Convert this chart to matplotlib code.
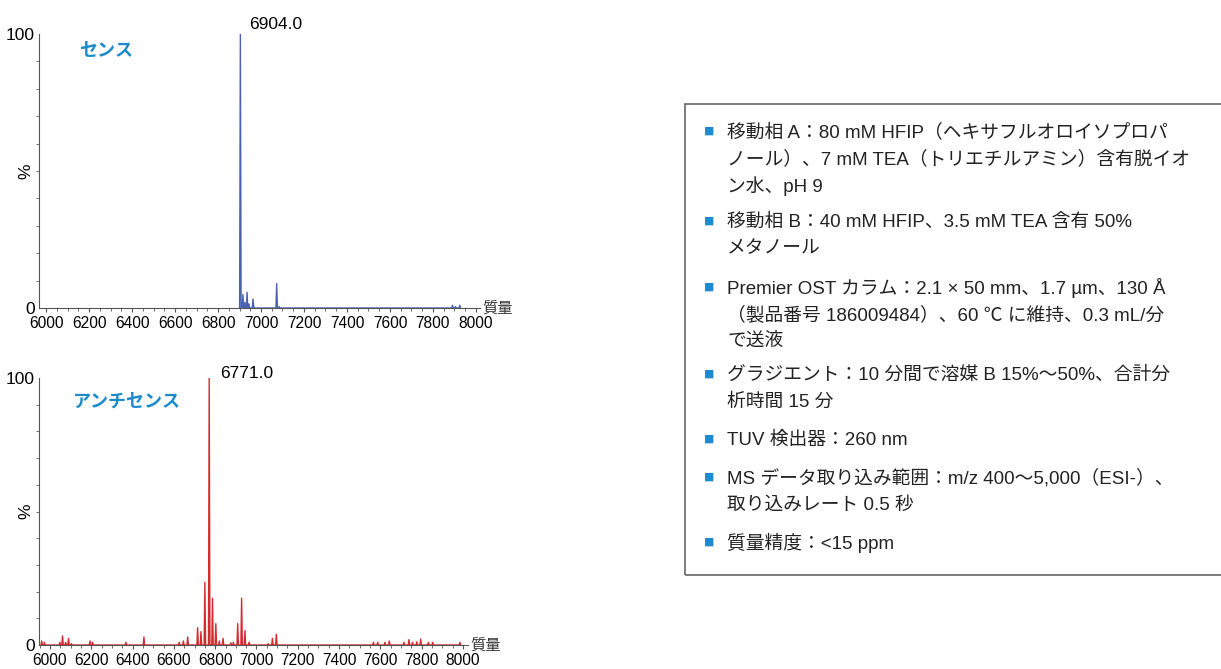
import numpy as np
import matplotlib.pyplot as plt
from matplotlib.patches import Rectangle
from matplotlib.ticker import MultipleLocator

plt.rcParams['font.family'] = ['Liberation Sans', 'Noto Sans CJK JP', 'DejaVu Sans']

# sense strand spectrum (mass, relative intensity %)
sense_mass = [6904, 6916, 6925, 6935, 6944, 6963, 7073, 7085, 7891, 7905, 7925]
sense_int = [100, 4.9, 2.0, 5.7, 1.5, 3.3, 8.9, 0.5, 1.0, 0.5, 1.0]
sense_peak = 6904.0

# antisense strand spectrum
anti_mass = [5960, 5973, 6048, 6061, 6076, 6090, 6104, 6194, 6207, 6368, 6455,
             6626, 6646, 6667, 6715, 6731, 6750, 6771, 6787, 6803, 6820, 6838,
             6876, 6888, 6909, 6928, 6944, 6964, 7057, 7077, 7096,
             7566, 7587, 7622, 7643, 7714, 7738, 7755, 7776, 7795, 7832, 7853, 7985]
anti_int = [1.5, 1.0, 1.0, 3.4, 1.0, 2.5, 0.5, 1.5, 1.0, 1.0, 3.0,
            1.0, 1.5, 3.0, 6.5, 5.0, 23.5, 100, 17.5, 8.0, 1.5, 2.5,
            0.8, 1.0, 8.0, 17.5, 5.4, 1.0, 0.5, 2.5, 4.0,
            1.0, 1.0, 1.0, 1.5, 1.0, 2.0, 1.0, 1.2, 2.2, 1.0, 1.0, 1.0]
anti_peak = 6771.0

info_lines = [
    (True, '移動相 A：80 mM HFIP（ヘキサフルオロイソプロパ'),
    (False, 'ノール）、7 mM TEA（トリエチルアミン）含有脱イオ'),
    (False, 'ン水、pH 9'),
    (True, '移動相 B：40 mM HFIP、3.5 mM TEA 含有 50%'),
    (False, 'メタノール'),
    (True, 'Premier OST カラム：2.1 × 50 mm、1.7 µm、130 Å'),
    (False, '（製品番号 186009484）、60 ℃ に維持、0.3 mL/分'),
    (False, 'で送液'),
    (True, 'グラジエント：10 分間で溶媒 B 15%～50%、合計分'),
    (False, '析時間 15 分'),
    (True, 'TUV 検出器：260 nm'),
    (True, 'MS データ取り込み範囲：m/z 400～5,000（ESI-）、'),
    (False, '取り込みレート 0.5 秒'),
    (True, '質量精度：<15 ppm'),
]
line_y = [132, 159, 186, 222, 248, 288, 315, 341, 375, 402, 440, 478, 505, 543]

W, H = 1221, 669
fig = plt.figure(figsize=(W / 100, H / 100), dpi=100)


def profile(mass, inten, hw=3.5):
    # thin triangular peaks
    xs, ys = [], []
    for m, h in zip(mass, inten):
        xs += [m - hw, m, m + hw]
        ys += [0, h, 0]
    return xs, ys


def spectrum(rect, mass, inten, color, xlim, label, peak, toff):
    ax = fig.add_axes(rect)
    xs, ys = profile(mass, inten)
    ax.plot(xs, ys, color=color, lw=1.0)
    ax.set_xlim(*xlim)
    ax.set_ylim(0, 100)
    for s in ['top', 'right']:
        ax.spines[s].set_visible(False)
    for s in ['left', 'bottom']:
        ax.spines[s].set_color('#555555')
        ax.spines[s].set_linewidth(0.8)
    ax.set_xticks(np.arange(6000, 8001, 200))
    ax.xaxis.set_minor_locator(MultipleLocator(50))
    ax.set_yticks([0, 100])
    ax.yaxis.set_minor_locator(MultipleLocator(10))
    ax.tick_params(axis='x', which='major', length=3, labelsize=11.2, pad=2.5, color='#555555')
    ax.tick_params(axis='x', which='minor', length=2, color='#555555')
    ax.tick_params(axis='y', which='major', length=0, labelsize=12.5, pad=3)
    ax.tick_params(axis='y', which='minor', length=2, color='#555555')
    ax.text(-0.03, 0.5, '%', transform=ax.transAxes, fontsize=12.5,
            rotation=90, va='center', ha='center')
    ax.text(1.005, 0.0, '質量', transform=ax.transAxes, fontsize=11,
            va='center', ha='left', color='#333333')
    ax.text(*label[1], label[0], transform=ax.transAxes, fontsize=13,
            fontweight='bold', color='#1b8bcb', va='center', ha='left')
    ax.annotate(f'{peak:.1f}', xy=(peak, 100), xytext=toff,
                textcoords='offset points', fontsize=12.5, va='center', ha='left',
                annotation_clip=False)
    return ax


spectrum([39 / W, 1 - 308 / H, 441 / W, 274 / H], sense_mass, sense_int, '#4a62b0',
         (5967, 8019), ('センス', (0.09, 0.935)), sense_peak, (6, 6.5))
spectrum([39 / W, 1 - 645 / H, 429 / W, 267 / H], anti_mass, anti_int, '#d42a30',
         (5947, 8024), ('アンチセンス', (0.08, 0.91)), anti_peak, (8, 3.5))

# conditions box
fig.patches.append(Rectangle((685 / W, 1 - 575 / H), 540 / W, 471 / H,
                             transform=fig.transFigure, fill=False,
                             ec='#666666', lw=1.2))
for (bullet, txt), y in zip(info_lines, line_y):
    if bullet:
        fig.text(709 / W, 1 - y / H, '■', fontsize=7.5, color='#1f8ad0',
                 va='center', ha='center', family=['Noto Sans CJK JP'])
    fig.text(727 / W, 1 - y / H, txt, fontsize=13.5, color='#222222',
             va='center', ha='left')

fig.savefig('out.png', dpi=100)
